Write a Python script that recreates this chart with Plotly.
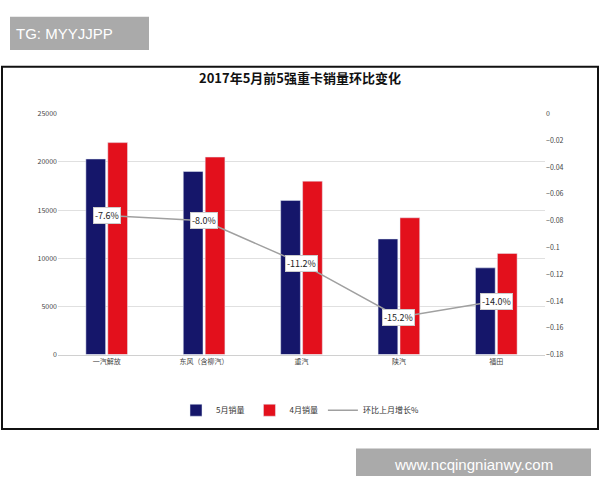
import plotly.graph_objects as go

brands = ['一汽解放', '东风（含柳汽）', '重汽', '陕汽', '福田']
may_sales = [20300, 19000, 16000, 12000, 9000]
apr_sales = [22000, 20500, 18000, 14200, 10500]
mom_change = [-0.076, -0.080, -0.112, -0.152, -0.140]
left_ticks = [0, 5000, 10000, 15000, 20000, 25000]
right_ticks = [0, -0.02, -0.04, -0.06, -0.08, -0.1, -0.12, -0.14, -0.16, -0.18]

font = 'Noto Sans CJK SC'
fig = go.Figure()
fig.add_trace(go.Bar(x=brands, y=may_sales, name='5月销量', marker_color='#15166a'))
fig.add_trace(go.Bar(x=brands, y=apr_sales, name='4月销量', marker_color='#e3101c'))
fig.add_trace(go.Scatter(x=brands, y=mom_change, name='环比上月增长%', yaxis='y2', mode='lines',
                         line=dict(color='#a0a0a0', width=1.5)))

annotations = []
for b, v in zip(brands, mom_change):
    annotations.append(dict(x=b, y=v, xref='x', yref='y2', text='%.1f%%' % (v * 100), showarrow=False,
                            bgcolor='white', bordercolor='#cccccc', borderwidth=1,
                            font=dict(size=9, color='#222', family=font)))
annotations.append(dict(x=0.5, y=1 - 73 / 480, xref='paper', yref='paper', xanchor='center', yanchor='middle',
                        text='<b>2017年5月前5强重卡销量环比变化</b>',
                        showarrow=False, font=dict(size=13, color='#111', family=font)))
annotations.append(dict(x=14 / 600, y=1 - 28 / 480, xref='paper', yref='paper', xanchor='left',
                        yanchor='middle', text='TG: MYYJJPP',
                        showarrow=False, font=dict(size=15, color='white', family='Liberation Sans')))
annotations.append(dict(x=(356 + 591) / 1200, y=1 - 468 / 480, xref='paper', yref='paper', xanchor='center',
                        yanchor='middle', text='www.ncqingnianwy.com',
                        showarrow=False, font=dict(size=15, color='white', family='Liberation Sans')))

shapes = [
    dict(type='rect', xref='paper', yref='paper', x0=2 / 600, x1=598 / 600, y0=1 - 432 / 480, y1=1 - 62 / 480,
         line=dict(color='#111', width=2), layer='below'),
    dict(type='rect', xref='paper', yref='paper', x0=10 / 600, x1=149 / 600, y0=1 - 45 / 480, y1=1 - 11 / 480,
         fillcolor='#aaaaaa', line_width=0, layer='below'),
    dict(type='rect', xref='paper', yref='paper', x0=356 / 600, x1=591 / 600, y0=0, y1=1 - 452 / 480,
         fillcolor='#aaaaaa', line_width=0, layer='below'),
]

tick_font = dict(size=7, color='#444', family=font)
fig.update_layout(
    width=600, height=480, margin=dict(l=0, r=0, t=0, b=0),
    paper_bgcolor='white', plot_bgcolor='white',
    barmode='group', bargap=0.55, bargroupgap=0.1,
    font=dict(family=font, size=7, color='#333'),
    xaxis=dict(domain=[58 / 600, 545 / 600], showline=True, linecolor='#d0d0d0', ticks='', tickfont=tick_font),
    yaxis=dict(domain=[1 - 356 / 480, 1 - 110 / 480], range=[0, 25000], tickvals=left_ticks, tickformat='d',
               showgrid=True, gridcolor='#e0e0e0', zeroline=False, tickfont=tick_font),
    yaxis2=dict(overlaying='y', side='right', range=[-0.18, 0], tickvals=right_ticks,
                showgrid=False, zeroline=False, tickfont=tick_font),
    legend=dict(orientation='h', x=0.5, xanchor='center', y=1 - 398 / 480, yanchor='top',
                font=dict(size=8), traceorder='normal', itemwidth=30),
    annotations=annotations, shapes=shapes,
)
fig.write_html('out.html', config={'displayModeBar': False}, post_script="document.body.style.margin='0';")
